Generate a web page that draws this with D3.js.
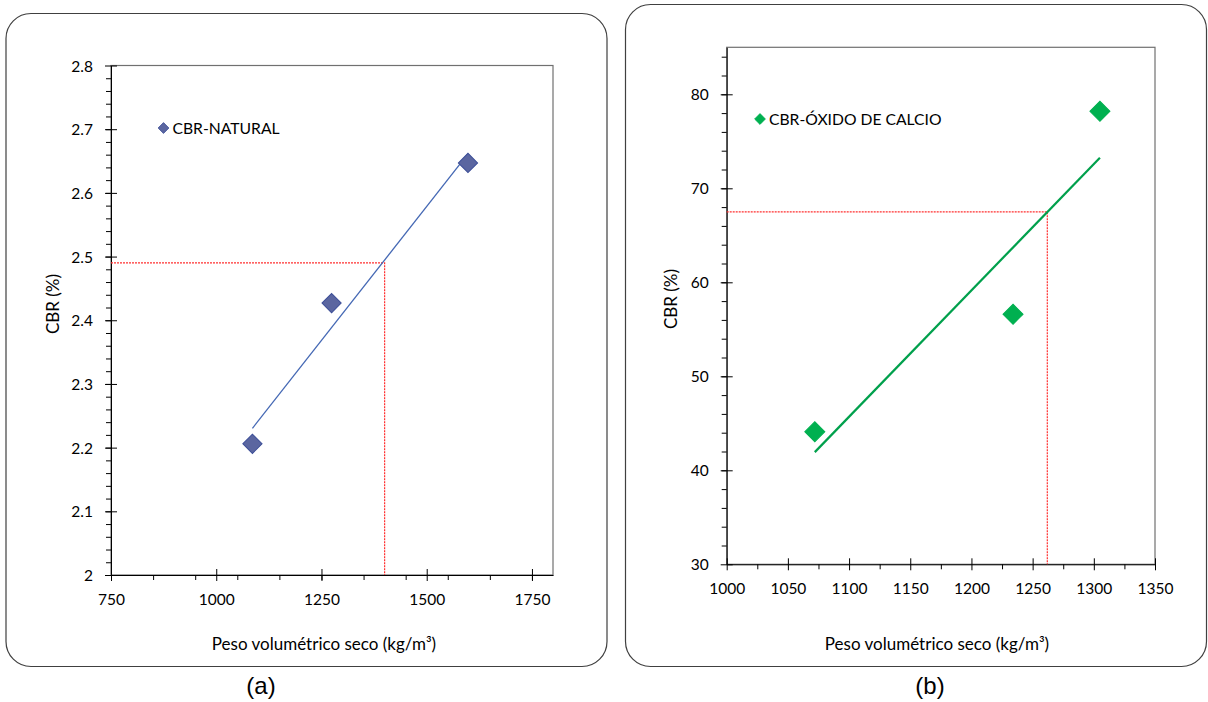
<!DOCTYPE html>
<html>
<head>
<meta charset="utf-8">
<script src="https://cdn.jsdelivr.net/npm/d3@7"></script>
<style>
  body { margin: 0; background: #fff; }
  svg { display: block; }
</style>
</head>
<body>
<div id="chart"></div>
<script>
// data
var natX = [1086, 1274, 1598];          // peso volumetrico seco, natural
var natY = [2.206, 2.427, 2.647];       // CBR (%), natural
var calX = [1072, 1234, 1305];          // peso volumetrico seco, oxido de calcio
var calY = [44.1, 56.6, 78.2];          // CBR (%), oxido de calcio

// reference (red dotted) points
var natRef = [1400, 2.49];
var calRef = [1262, 67.5];

// ticks
var natTicksX = [750, 1000, 1250, 1500, 1750];
var natTicksY = [2, 2.1, 2.2, 2.3, 2.4, 2.5, 2.6, 2.7, 2.8];
var calTicksX = [1000, 1050, 1100, 1150, 1200, 1250, 1300, 1350];
var calTicksY = [30, 40, 50, 60, 70, 80];

var labelFont = "Lato, 'Open Sans', sans-serif";

var svg = d3.select("#chart").append("svg")
  .attr("width", 1208)
  .attr("height", 702);

function drawPanel(cfg) {
  // outer rounded frame
  svg.append("rect")
    .attr("x", cfg.box[0]).attr("y", cfg.box[1])
    .attr("width", cfg.box[2]).attr("height", cfg.box[3])
    .attr("rx", 25).attr("ry", 25)
    .attr("fill", "#fff")
    .attr("stroke", "#404040")
    .attr("stroke-width", 1.2);

  var x = d3.scaleLinear().domain(cfg.xDomain).range(cfg.xRange);
  var y = d3.scaleLinear().domain(cfg.yDomain).range(cfg.yRange);
  var x0 = cfg.xRange[0], x1 = cfg.xRange[1];
  var y0 = cfg.yRange[0], y1 = cfg.yRange[1];

  // plot area border
  svg.append("rect")
    .attr("x", x0).attr("y", y1)
    .attr("width", x1 - x0).attr("height", y0 - y1)
    .attr("fill", "none")
    .attr("stroke", "#707070")
    .attr("stroke-width", 1.2);

  // minor ticks
  var mx = svg.append("g")
    .attr("transform", "translate(0," + y0 + ")")
    .call(d3.axisBottom(x).tickValues(cfg.minorX).tickSize(5).tickFormat(""));
  mx.select(".domain").remove();
  var my = svg.append("g")
    .attr("transform", "translate(" + x0 + ",0)")
    .call(d3.axisLeft(y).tickValues(cfg.minorY).tickSize(5).tickFormat(""));
  my.select(".domain").remove();

  // X axis
  var ax = svg.append("g")
    .attr("transform", "translate(0," + y0 + ")")
    .call(d3.axisBottom(x).tickValues(cfg.xTicks).tickSize(6).tickSizeOuter(0).tickFormat(String));
  ax.selectAll(".tick line").attr("y1", -6).attr("y2", 6);
  ax.selectAll("text")
    .attr("y", 19).attr("dy", "0.72em")
    .attr("fill", "#000")
    .style("font-family", labelFont)
    .style("font-size", "15.5px");

  // Y axis
  var ay = svg.append("g")
    .attr("transform", "translate(" + x0 + ",0)")
    .call(d3.axisLeft(y).tickValues(cfg.yTicks).tickSize(6).tickSizeOuter(0).tickFormat(String));
  ay.selectAll(".tick line").attr("x1", -6).attr("x2", 6);
  ay.selectAll("text")
    .attr("x", -18).attr("dy", "0.36em")
    .attr("fill", "#000")
    .style("font-family", labelFont)
    .style("font-size", "15.5px");
  svg.selectAll(".domain").attr("stroke", "#000");

  // red reference lines
  svg.append("path")
    .attr("d", "M" + x0 + "," + y(cfg.ref[1]) + "H" + x(cfg.ref[0]) + "V" + y0)
    .attr("fill", "none")
    .attr("stroke", "#ff3030")
    .attr("stroke-width", 1.2)
    .attr("stroke-dasharray", "2,1");

  // linear trend line (least squares)
  var mX = d3.mean(cfg.xs), mY = d3.mean(cfg.ys);
  var sxy = d3.sum(cfg.xs, function(d, i) { return (d - mX) * (cfg.ys[i] - mY); });
  var sxx = d3.sum(cfg.xs, function(d) { return (d - mX) * (d - mX); });
  var slope = sxy / sxx;
  var ends = d3.extent(cfg.xs);
  var trend = d3.line()
    .x(function(d) { return x(d); })
    .y(function(d) { return y(mY + slope * (d - mX)); });
  svg.append("path")
    .datum(ends)
    .attr("d", trend)
    .attr("fill", "none")
    .attr("stroke", cfg.lineColor)
    .attr("stroke-width", cfg.lineWidth);

  // markers
  var diamond = d3.symbol().type(d3.symbolSquare).size(cfg.markerSize);
  svg.append("g").selectAll("path")
    .data(cfg.xs)
    .enter().append("path")
    .attr("d", diamond)
    .attr("transform", function(d, i) {
      return "translate(" + x(d) + "," + y(cfg.ys[i]) + ") rotate(45)";
    })
    .attr("fill", cfg.markerColor)
    .attr("stroke", cfg.markerStroke)
    .attr("stroke-width", 1);

  // legend
  svg.append("path")
    .attr("d", d3.symbol().type(d3.symbolSquare).size(58))
    .attr("transform", "translate(" + cfg.legend[0] + "," + cfg.legend[1] + ") rotate(45)")
    .attr("fill", cfg.markerColor)
    .attr("stroke", cfg.markerStroke)
    .attr("stroke-width", 0.8);
  svg.append("text")
    .attr("x", cfg.legend[0] + 9)
    .attr("y", cfg.legend[1])
    .attr("dy", "0.36em")
    .style("font-family", labelFont)
    .style("font-size", "15.7px")
    .text(cfg.name);

  // axis titles
  svg.append("text")
    .attr("x", cfg.xTitle[0])
    .attr("y", cfg.xTitle[1])
    .style("text-anchor", "middle")
    .style("font-family", labelFont)
    .style("font-size", "17px")
    .text("Peso volumétrico seco (kg/m³)");
  svg.append("text")
    .attr("transform", "translate(" + cfg.yTitle[0] + "," + cfg.yTitle[1] + ") rotate(-90)")
    .attr("dy", "0.36em")
    .style("text-anchor", "middle")
    .style("font-family", labelFont)
    .style("font-size", "17px")
    .text("CBR (%)");

  // panel caption
  svg.append("text")
    .attr("x", cfg.caption[0])
    .attr("y", 694)
    .style("text-anchor", "middle")
    .style("font-family", "'Liberation Sans', Arial, sans-serif")
    .style("font-size", "24px")
    .text(cfg.caption[1]);
}

// --------------- PANEL (a) --------------- //
drawPanel({
  box: [6, 13.5, 601, 653],
  xDomain: [750, 1800], xRange: [111, 553],
  yDomain: [2, 2.8], yRange: [575, 65.5],
  xTicks: natTicksX, yTicks: natTicksY,
  minorX: d3.range(850, 1800, 100),
  minorY: d3.range(2, 2.8, 0.02),
  xs: natX, ys: natY, ref: natRef,
  lineColor: "#4468b4", lineWidth: 1.3,
  markerColor: "#5b66a0", markerStroke: "#3d4f98", markerSize: 185,
  legend: [163.5, 128], name: "CBR-NATURAL",
  xTitle: [324, 650], yTitle: [53, 304],
  caption: [261, "(a)"]
});

// --------------- PANEL (b) --------------- //
drawPanel({
  box: [625.5, 4.5, 581, 662],
  xDomain: [1000, 1350], xRange: [726.7, 1155],
  yDomain: [30, 85], yRange: [564.3, 47.3],
  xTicks: calTicksX, yTicks: calTicksY,
  minorX: d3.range(1025, 1350, 50),
  minorY: d3.range(32, 85, 2),
  xs: calX, ys: calY, ref: calRef,
  lineColor: "#00a04c", lineWidth: 2.2,
  markerColor: "#00b050", markerStroke: "#00b050", markerSize: 200,
  legend: [760, 119], name: "CBR-ÓXIDO DE CALCIO",
  xTitle: [937, 650], yTitle: [671, 299],
  caption: [930, "(b)"]
});
</script>
</body>
</html>
